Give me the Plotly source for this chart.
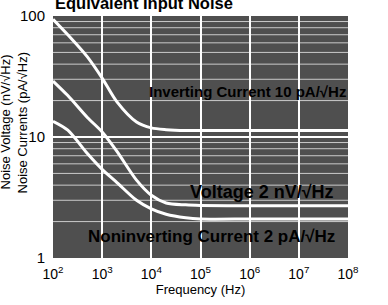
import plotly.graph_objects as go

freq = [100, 200, 500, 1000, 2000, 5000, 1e4, 2e4, 5e4, 1e5, 1e6, 1e7, 1e8]
inv_current = [94, 70, 46, 30.7, 19.5, 13.3, 11.9, 11.5, 11.3, 11.3, 11.3, 11.3, 11.3]
voltage = [29, 22, 14.5, 11.0, 7.6, 4.4, 3.3, 2.85, 2.75, 2.72, 2.7, 2.7, 2.7]
noninv_current = [13.5, 11.4, 7.3, 5.4, 4.2, 3.0, 2.55, 2.3, 2.15, 2.1, 2.1, 2.1, 2.1]

xticks = [1e2, 1e3, 1e4, 1e5, 1e6, 1e7, 1e8]
xticktext = ["10<sup>2</sup>", "10<sup>3</sup>", "10<sup>4</sup>", "10<sup>5</sup>",
             "10<sup>6</sup>", "10<sup>7</sup>", "10<sup>8</sup>"]
yticks = [1, 10, 100]
yticktext = ["1", "10", "100"]
yminor = [2, 3, 4, 5, 6, 7, 8, 9, 20, 30, 40, 50, 60, 70, 80, 90]

labels = ["Inverting Current 10 pA/√Hz", "Voltage 2 nV/√Hz", "Noninverting Current 2 pA/√Hz"]

FONT = "Liberation Sans, Arial"

fig = go.Figure()
for ys in (inv_current, voltage, noninv_current):
    fig.add_trace(go.Scatter(x=freq, y=ys, mode="lines",
                             line=dict(color="white", width=3, shape="spline", smoothing=0.8),
                             showlegend=False, hoverinfo="skip"))

for v in yminor:
    fig.add_shape(type="line", xref="paper", x0=0, x1=1, yref="y", y0=v, y1=v,
                  line=dict(color="rgba(255,255,255,0.7)", width=1), layer="below")

fig.add_annotation(x=5.96, y=1.38, text="<b>" + labels[0] + "</b>", showarrow=False,
                   font=dict(family=FONT, size=15, color="black"))
fig.add_annotation(x=6.25, y=0.545, text="<b>" + labels[1] + "</b>", showarrow=False,
                   font=dict(family=FONT, size=18, color="black"))
fig.add_annotation(x=5.23, y=0.174, text="<b>" + labels[2] + "</b>", showarrow=False,
                   font=dict(family=FONT, size=17, color="black"))

fig.add_annotation(xref="paper", yref="paper", x=0.0, y=1.0, yshift=13, xanchor="left",
                   yanchor="middle", text="<b>Equivalent Input Noise</b>", showarrow=False,
                   font=dict(family=FONT, size=16.5, color="black"))
fig.add_annotation(xref="paper", yref="paper", x=0, xshift=-48, xanchor="center", y=0.56,
                   textangle=-90, text="Noise Voltage (nV/√Hz)", showarrow=False,
                   font=dict(family=FONT, size=13, color="black"))
fig.add_annotation(xref="paper", yref="paper", x=0, xshift=-31, xanchor="center", y=0.56,
                   textangle=-90, text="Noise Currents (pA/√Hz)", showarrow=False,
                   font=dict(family=FONT, size=13, color="black"))

fig.update_layout(
    width=388, height=305,
    margin=dict(l=53, r=40, t=16, b=47),
    paper_bgcolor="white", plot_bgcolor="#4f4f4f",
    font=dict(family=FONT, size=14, color="black"),
    xaxis=dict(type="log", range=[2, 8], tickvals=xticks, ticktext=xticktext,
               showgrid=True, gridcolor="white", gridwidth=1.5, zeroline=False,
               ticks="outside", ticklen=3, tickcolor="rgba(0,0,0,0)", automargin=False,
               title=dict(text="Frequency (Hz)", font=dict(size=13), standoff=2),
               tickfont=dict(size=14)),
    yaxis=dict(type="log", range=[0, 2], tickvals=yticks, ticktext=yticktext,
               showgrid=True, gridcolor="white", gridwidth=1.5, zeroline=False,
               ticks="outside", ticklen=4, tickcolor="rgba(0,0,0,0)", automargin=False,
               tickfont=dict(size=15)),
)

fig.write_html("out.html", config={"displayModeBar": False},
               post_script="document.body.style.margin='0';")
